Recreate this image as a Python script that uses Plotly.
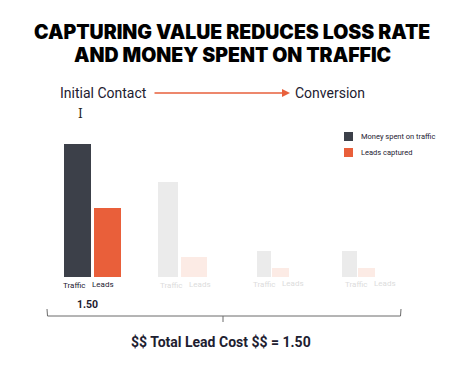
import plotly.graph_objects as go

# ---- data ----
stages = ["Stage 1", "Stage 2", "Stage 3", "Stage 4"]
traffic = [100, 71, 19, 19]
leads = [52, 15, 6.5, 6.5]
bar_labels = ["Traffic", "Leads"]
series_names = ["Money spent on traffic", "Leads captured"]
cost_label = "1.50"
total_text = "$$ Total Lead Cost $$ = 1.50"
title_lines = ["CAPTURING VALUE REDUCES LOSS RATE", "AND MONEY SPENT ON TRAFFIC"]

# ---- layout constants (pixels, page coordinates) ----
W, H = 471, 368
OFF = 8  # page body margin
BASE = 276.5
SCALE = 1.325
def py(p):
    return (BASE - p) / SCALE

traffic_left = [64, 158, 257, 342]
traffic_w = [27, 20, 14, 15]
leads_left = [94, 181, 272, 358]
leads_w = [27, 26, 17, 17]
traffic_colors = ["#3c4049", "#ebebeb", "#ebebeb", "#ebebeb"]
leads_colors = ["#e95f3a", "#fcebe5", "#fcebe5", "#fcebe5"]

fig = go.Figure()
fig.add_bar(x=[l + w / 2 for l, w in zip(traffic_left, traffic_w)], y=traffic,
            width=traffic_w, marker=dict(color=traffic_colors, line_width=0),
            name=series_names[0], showlegend=False, hoverinfo="skip")
fig.add_bar(x=[l + w / 2 for l, w in zip(leads_left, leads_w)], y=leads,
            width=leads_w, marker=dict(color=leads_colors, line_width=0),
            name=series_names[1], showlegend=False, hoverinfo="skip")

FONT = "Roboto, sans-serif"
TXT = "#1d2030"
ann = []
# title
for yy, line in zip([32, 55], title_lines):
    ann.append(dict(x=232, y=py(yy), text=line, showarrow=False,
                    font=dict(family="Inter", size=19.5, color="#000", weight=900)))
# stage texts
ann.append(dict(x=103, y=py(93), text="Initial Contact", showarrow=False,
                font=dict(family=FONT, size=14, color=TXT)))
ann.append(dict(x=330, y=py(93), text="Conversion", showarrow=False,
                font=dict(family=FONT, size=14, color=TXT)))
# arrow
ann.append(dict(x=290, y=py(93), ax=153, ay=py(93), axref="x", ayref="y",
                text="", showarrow=True, arrowhead=2, arrowsize=1, arrowwidth=1.6,
                arrowcolor="#e8603c"))
# cursor
ann.append(dict(x=80, y=py(114), text="I", showarrow=False,
                font=dict(family="DejaVu Serif", size=12, color="#222")))
# bar labels
t_lab_x = [74, 171, 263.5, 356]
l_lab_x = [103, 200, 292.5, 385]
lab_y = [285, 285, 284, 284]
for i in range(len(stages)):
    c = TXT if i == 0 else "#dcdcdc"
    ann.append(dict(x=t_lab_x[i], y=py(lab_y[i]), text=bar_labels[0], showarrow=False,
                    font=dict(family=FONT, size=8, color=c)))
    ann.append(dict(x=l_lab_x[i], y=py(lab_y[i] - 1), text=bar_labels[1], showarrow=False,
                    font=dict(family=FONT, size=8, color=c)))
ann.append(dict(x=87, y=py(304), text="<b>" + cost_label + "</b>", showarrow=False,
                font=dict(family=FONT, size=10.5, color=TXT)))
ann.append(dict(x=221, y=py(342), text="<b>" + total_text + "</b>", showarrow=False,
                font=dict(family=FONT, size=14, color=TXT)))
# legend
leg_y = [136.5, 152.5]
for i, nm in enumerate(series_names):
    ann.append(dict(x=359, y=py(leg_y[i]), text=nm, showarrow=False, xanchor="left",
                    font=dict(family=FONT, size=7.5, color=TXT)))

shapes = []
for i, col in enumerate([traffic_colors[0], leads_colors[0]]):
    shapes.append(dict(type="rect", x0=344, x1=353, y0=py(leg_y[i] - 4.5), y1=py(leg_y[i] + 4.5),
                       fillcolor=col, line_width=0))
# bracket
shapes.append(dict(type="path", path=f"M 47 {py(309)} L 47.5 {py(316)} L 400.5 {py(316)} L 401 {py(309)}",
                   line=dict(color="#6b6b6b", width=1)))
shapes.append(dict(type="line", x0=223, x1=223, y0=py(316), y1=py(322),
                   line=dict(color="#6b6b6b", width=1)))

fig.update_layout(
    width=W, height=H, margin=dict(l=0, r=0, t=0, b=0),
    paper_bgcolor="white", plot_bgcolor="white",
    barmode="overlay", bargap=0,
    xaxis=dict(range=[OFF, W + OFF], visible=False, fixedrange=True),
    yaxis=dict(range=[py(H + OFF), py(OFF)], visible=False, fixedrange=True),
    annotations=ann, shapes=shapes, showlegend=False,
)
fig.write_html("out.html")
